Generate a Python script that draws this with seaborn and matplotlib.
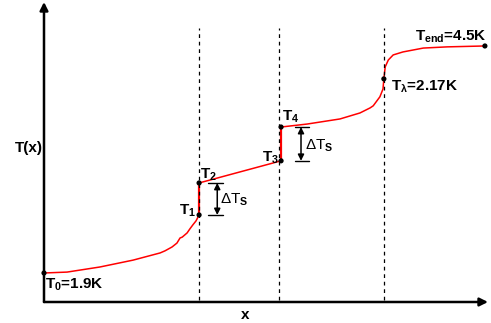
import matplotlib
matplotlib.use("Agg")
import matplotlib.pyplot as plt
import seaborn as sns
import pandas as pd

sns.set_style("white")
plt.rcParams["font.family"] = ["Liberation Sans", "DejaVu Sans"]
plt.rcParams["mathtext.fontset"] = "custom"
plt.rcParams["mathtext.rm"] = "Liberation Sans:bold"
plt.rcParams["mathtext.it"] = "Liberation Sans:bold"
plt.rcParams["mathtext.bf"] = "Liberation Sans:bold"

# Temperature profile along the line (schematic units)
seg1_x = [0.0, 5.2, 12.6, 20.1, 26.2, 27.3, 28.9, 30.0, 30.7, 31.2, 32.3, 32.9, 33.6, 34.3, 35.0]
seg1_y = [9.7, 10.0, 11.7, 14.0, 16.4, 17.1, 18.4, 19.7, 21.4, 21.7, 23.1, 24.4, 25.8, 27.1, 29.1]
seg2_x = [35.0, 53.5]
seg2_y = [39.8, 47.2]
seg3_x = [53.5, 59.4, 66.8, 71.3, 73.6, 74.3, 75.8, 76.5, 76.7]
seg3_y = [58.5, 59.5, 61.2, 63.2, 64.9, 65.6, 68.6, 71.2, 74.6]
seg4_x = [76.7, 77.0, 77.7, 78.8, 81.0, 85.6, 91.0, 99.5]
seg4_y = [74.6, 78.6, 80.9, 82.6, 83.6, 84.9, 85.3, 85.6]

# Step jumps at the two interfaces
jump_x = [[35.0, 35.0], [53.5, 53.5]]
jump_y = [[29.1, 39.8], [47.2, 58.5]]

# Interface positions
interfaces = [35.0, 53.0, 76.7]

# Marked points
pt_x = [0.0, 35.0, 35.0, 53.5, 53.5, 76.7, 99.5]
pt_y = [9.7, 29.1, 39.8, 47.2, 58.5, 74.6, 85.6]

fig = plt.figure(figsize=(4.91, 3.23), dpi=100)
ax = fig.add_axes([44 / 491, 21 / 323, 444 / 491, 300 / 323])
ax.set_xlim(0, 100.2)
ax.set_ylim(0, 100.3)
for s in ax.spines.values():
    s.set_visible(False)
ax.set_xticks([])
ax.set_yticks([])

for xs, ys in [(seg1_x, seg1_y), (seg2_x, seg2_y), (seg3_x, seg3_y), (seg4_x, seg4_y)]:
    df = pd.DataFrame({"x": xs, "y": ys})
    sns.lineplot(data=df, x="x", y="y", ax=ax, color="red", lw=1.1,
                 sort=False, estimator=None)
for xs, ys in zip(jump_x, jump_y):
    df = pd.DataFrame({"x": xs, "y": ys})
    sns.lineplot(data=df, x="x", y="y", ax=ax, color="red", lw=1.6,
                 sort=False, estimator=None)

for xv in interfaces:
    ax.plot([xv, xv], [0.7, 91.6], color="black", ls=(0, (3, 3)), lw=0.9)

sns.scatterplot(x=pt_x, y=pt_y, ax=ax, color="black", s=14, zorder=5,
                clip_on=False, edgecolor="none")

# Axes with arrow heads
ax.annotate("", xy=(1.0, 0), xytext=(0, 0), xycoords="axes fraction",
            arrowprops=dict(arrowstyle="-|>", color="black", lw=1.8,
                            mutation_scale=12, shrinkA=0, shrinkB=0))
ax.annotate("", xy=(0, 1.0), xytext=(0, 0), xycoords="axes fraction",
            arrowprops=dict(arrowstyle="-|>", color="black", lw=1.8,
                            mutation_scale=12, shrinkA=0, shrinkB=0))

# Delta T_s indicators
for xc, y0, y1, xl, xr in [(39.1, 29.1, 39.8, 37.0, 40.4), (58.0, 47.2, 58.5, 56.7, 59.8)]:
    ax.annotate("", xy=(xc, y1), xytext=(xc, y0),
                arrowprops=dict(arrowstyle="<|-|>", color="black", lw=1.1,
                                mutation_scale=9, shrinkA=0, shrinkB=0))
    ax.plot([xl, xr], [y0, y0], color="black", lw=1.0)
    ax.plot([xl, xr], [y1, y1], color="black", lw=1.0)

fs = 11
kw = dict(fontsize=fs, fontweight="bold", color="black")
ax.text(0.3, 5.7, "T$_{0}$=1.9K", ha="left", va="center", **kw)
ax.text(34.4, 30.4, "T$_{1}$", ha="right", va="center", **kw)
ax.text(35.3, 42.5, "T$_{2}$", ha="left", va="center", **kw)
ax.text(53.0, 48.2, "T$_{3}$", ha="right", va="center", **kw)
ax.text(53.6, 61.9, "T$_{4}$", ha="left", va="center", **kw)
ax.text(78.4, 71.9, "T$_{λ}$=2.17K", ha="left", va="center", **kw)
ax.text(100.0, 88.6, "T$_{end}$=4.5K", ha="right", va="center", **kw)
ax.text(39.7, 34.1, "ΔT$_{S}$", ha="left", va="center", fontsize=fs, color="black")
ax.text(58.9, 52.2, "ΔT$_{S}$", ha="left", va="center", fontsize=fs, color="black")

fig.text(29 / 491, 1 - 148 / 323, "T(x)", ha="center", va="center", **kw)
fig.text(245 / 491, 1 - 315 / 323, "x", ha="center", va="center", **kw)

fig.savefig("out.png", dpi=100)
